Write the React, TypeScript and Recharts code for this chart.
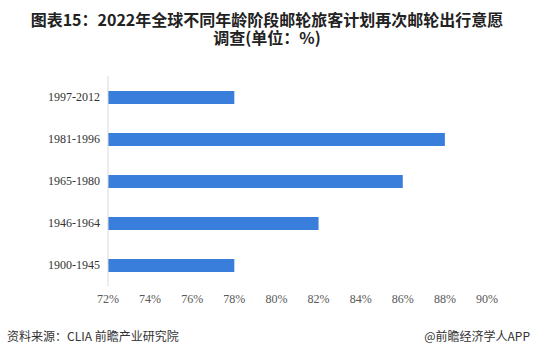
import { BarChart, Bar, XAxis, YAxis } from 'recharts';

const ageGroups = ['1997-2012', '1981-1996', '1965-1980', '1946-1964', '1900-1945'];
const intentPct = [78, 88, 86, 82, 78];
const xTicks = [72, 74, 76, 78, 80, 82, 84, 86, 88, 90];

const data = ageGroups.map((name, i) => ({ name, value: intentPct[i] }));

const cjk = '"Microsoft YaHei", "Noto Sans CJK SC", sans-serif';

const titleStyle = {
  position: 'absolute' as const,
  left: 0,
  width: 534,
  textAlign: 'center' as const,
  fontFamily: cjk,
  fontWeight: 'bold' as const,
  fontSize: 16,
  lineHeight: '18px',
  color: '#222',
  whiteSpace: 'nowrap' as const,
};

export default function App() {
  return (
    <div style={{ position: 'fixed', left: 0, top: 0, width: 534, height: 362, background: '#fff', overflow: 'hidden' }}>
      <div style={{ ...titleStyle, top: 10 }}>图表15：2022年全球不同年龄阶段邮轮旅客计划再次邮轮出行意愿</div>
      <div style={{ ...titleStyle, top: 28 }}>调查(单位：%)</div>

      <div style={{ position: 'absolute', left: 0, top: 0 }}>
        <BarChart
          width={534}
          height={362}
          data={data}
          layout="vertical"
          margin={{ top: 76, right: 47, bottom: 46, left: 0 }}
        >
          <XAxis
            type="number"
            domain={[72, 90]}
            ticks={xTicks}
            allowDataOverflow
            axisLine={false}
            tickLine={false}
            tickFormatter={(v) => `${v}%`}
            tick={{ fontSize: 12, fill: '#595959', fontFamily: '"Liberation Serif", serif' }}
          />
          <YAxis
            type="category"
            dataKey="name"
            width={108}
            axisLine={{ stroke: '#d9d9d9' }}
            tickLine={false}
            tick={{ fontSize: 12, fill: '#333', fontFamily: '"Liberation Serif", serif' }}
          />
          <Bar dataKey="value" fill="#3a7edb" barSize={13} isAnimationActive={false} />
        </BarChart>
      </div>

      <div style={{ position: 'absolute', left: 7, top: 327, fontFamily: cjk, fontSize: 12, color: '#333' }}>
        资料来源：CLIA 前瞻产业研究院
      </div>
      <div style={{ position: 'absolute', right: 4, top: 327, fontFamily: cjk, fontSize: 12, color: '#333' }}>
        @前瞻经济学人APP
      </div>
    </div>
  );
}
